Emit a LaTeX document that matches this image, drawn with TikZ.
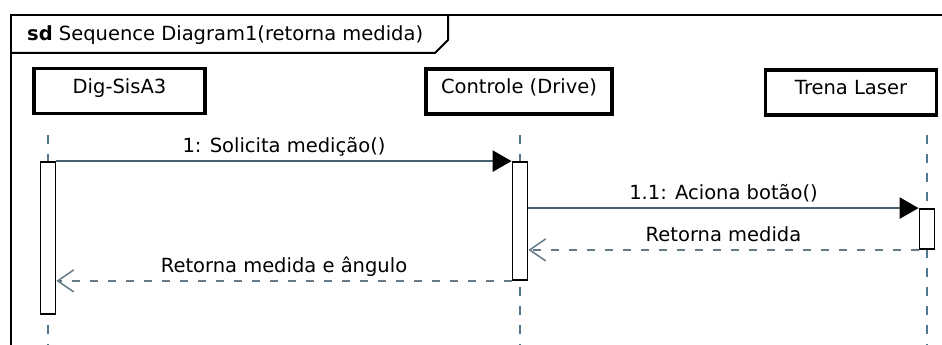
\documentclass[tikz,border=0pt]{standalone}
\usepackage{fontspec}
\setmainfont{DejaVu Sans}
\usetikzlibrary{arrows.meta}
\definecolor{msgline}{RGB}{70,100,112}
\definecolor{retline}{RGB}{100,122,134}
\definecolor{lifeline}{RGB}{80,120,145}

\begin{document}
\begin{tikzpicture}[x=1pt,y=-1pt,font=\fontsize{19.5}{23}\selectfont,
    head/.style={draw,line width=3.6pt,minimum width=171pt,minimum height=45pt,text height=14pt,text depth=10pt},
    act/.style={draw,fill=white,line width=1.8pt,minimum width=15pt,inner sep=0pt},
    life/.style={lifeline,line width=2.4pt,dash pattern=on 9pt off 10pt},
    call/.style={msgline,line width=2.5pt,-{Triangle[length=19pt,width=21pt,color=black]}},
    reply/.style={retline,line width=2.5pt,dash pattern=on 8pt off 10pt,-{Straight Barb[length=16pt,width=22pt,line width=1.5pt]}},
    msg/.style={text=black,above,inner sep=3.5pt,text height=15pt,text depth=4pt}]
   \path[use as bounding box,fill=white] (0,0) rectangle (942,345);
   % frame
   \draw[line width=2pt] (11,345) -- (11,15) -- (942,15);
   \draw[line width=2pt] (11,53) -- (435,53) -- (448,40) -- (448,15);
   \node[anchor=west,inner sep=0pt] (title) at (27,35) {\textbf{sd} Sequence Diagram1(retorna medida)};
   % lifeline heads
   \node[head] (dig) at (119.5,91) {Dig-SisA3};
   \node[head,minimum width=186pt] (ctl) at (519,91.5) {Controle (Drive)};
   \node[head] (trn) at (851,92.5) {Trena Laser};
   % lifelines
   \coordinate (digtop) at (48,135);
   \coordinate (digend) at (48,345);
   \coordinate (ctltop) at (520,135);
   \coordinate (ctlend) at (520,345);
   \coordinate (trntop) at (927,135);
   \coordinate (trnend) at (927,345);
   \draw[life] (digtop) -- (digend);
   \draw[life] (ctltop) -- (ctlend);
   \draw[life] (trntop) -- (trnend);
   % activations
   \node[act,minimum height=152pt] (digact) at (48,238) {};
   \node[act,minimum height=118pt] (ctlact) at (520,221) {};
   \node[act,minimum height=40pt] (trnact) at (927,229) {};
   % messages
   \draw[call] (digact.north east) -- node[msg] {1: Solicita medição()} (ctlact.north west);
   \draw[call] (ctlact.east |- trnact.north west) -- node[msg] {1.1: Aciona botão()} (trnact.north west);
   \draw[reply] (trnact.south west) -- node[msg] {Retorna medida} (ctlact.east |- trnact.south west);
   \draw[reply] (ctlact.south west) -- node[msg] {Retorna medida e ângulo} (digact.east |- ctlact.south west);
\end{tikzpicture}
\end{document}
